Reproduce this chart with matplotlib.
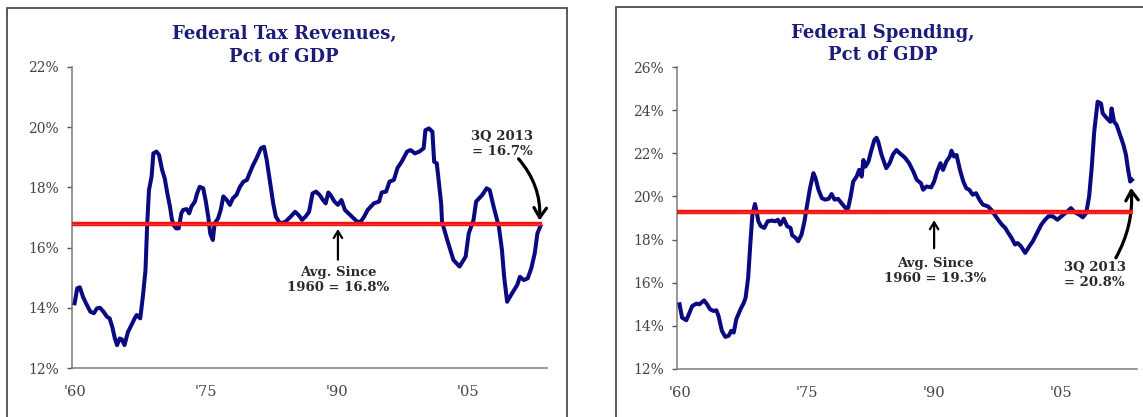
"""Federal tax revenues and spending as a share of GDP, side by side."""

import matplotlib

matplotlib.use("Agg")
import matplotlib.pyplot as plt
from matplotlib.patches import Rectangle

# Federal tax revenues, pct of GDP
tax_years = [
    1960.0, 1960.3, 1960.6, 1960.95, 1961.3, 1961.8, 1962.2, 1962.55, 1962.9, 1963.3,
    1963.7, 1964.0, 1964.3, 1964.6, 1964.85, 1965.15, 1965.4, 1965.7, 1966.1, 1966.5,
    1966.9, 1967.1, 1967.5, 1967.8, 1968.1, 1968.3, 1968.5, 1968.8, 1969.0, 1969.35,
    1969.65, 1970.0, 1970.3, 1970.6, 1970.9, 1971.1, 1971.3, 1971.6, 1971.9, 1972.2,
    1972.4, 1972.8, 1973.1, 1973.35, 1973.75, 1974.0, 1974.3, 1974.7, 1975.0, 1975.3,
    1975.5, 1975.8, 1976.0, 1976.4, 1976.7, 1977.0, 1977.4, 1977.75, 1978.1, 1978.5,
    1978.9, 1979.3, 1979.7, 1980.0, 1980.4, 1980.8, 1981.3, 1981.65, 1981.96, 1982.3,
    1982.7, 1983.0, 1983.5, 1984.1, 1984.7, 1985.2, 1985.6, 1986.0, 1986.4, 1986.8,
    1987.2, 1987.6, 1988.0, 1988.4, 1988.7, 1989.0, 1989.25, 1989.7, 1990.1, 1990.5,
    1990.9, 1991.3, 1991.9, 1992.3, 1992.7, 1993.1, 1993.5, 1994.2, 1994.8, 1995.1,
    1995.6, 1996.0, 1996.5, 1996.9, 1997.4, 1998.0, 1998.4, 1998.9, 1999.4, 1999.9,
    2000.1, 2000.5, 2000.9, 2001.1, 2001.4, 2001.9, 2002.0, 2002.6, 2003.3, 2004.0,
    2004.7, 2005.05, 2005.6, 2005.9, 2006.6, 2007.1, 2007.45, 2007.9, 2008.5, 2008.85,
    2009.1, 2009.44, 2010.0, 2010.6, 2010.9, 2011.35, 2011.8, 2012.2, 2012.6, 2012.9,
    2013.25,
]
tax_pct = [
    14.15, 14.65, 14.68, 14.37, 14.15, 13.87, 13.82, 13.98, 14.0, 13.87,
    13.7, 13.65, 13.37, 12.98, 12.76, 12.98, 12.95, 12.76, 13.2, 13.43,
    13.67, 13.76, 13.65, 14.37, 15.25, 16.8, 17.91, 18.36, 19.13, 19.19,
    19.08, 18.58, 18.3, 17.8, 17.36, 16.97, 16.75, 16.64, 16.64, 17.14,
    17.25, 17.28, 17.14, 17.36, 17.53, 17.8, 18.02, 17.97, 17.53, 16.97,
    16.47, 16.25, 16.8, 16.97, 17.25, 17.7, 17.58, 17.42, 17.64, 17.75,
    18.02, 18.19, 18.25, 18.47, 18.74, 18.97, 19.3, 19.35, 18.91, 18.25,
    17.47, 17.03, 16.8, 16.86, 17.03, 17.19, 17.08, 16.92, 17.03, 17.19,
    17.8, 17.86, 17.75, 17.58, 17.47, 17.83, 17.75, 17.53, 17.42, 17.58,
    17.25, 17.14, 16.97, 16.86, 16.86, 17.03, 17.25, 17.47, 17.53, 17.83,
    17.86, 18.19, 18.25, 18.64, 18.86, 19.19, 19.24, 19.13, 19.19, 19.3,
    19.9, 19.96, 19.85, 18.85, 18.8, 17.47, 16.86, 16.25, 15.59, 15.37,
    15.7, 16.47, 16.92, 17.53, 17.75, 17.97, 17.91, 17.36, 16.69, 15.92,
    15.03, 14.2, 14.48, 14.76, 15.03, 14.92, 14.98, 15.31, 15.81, 16.47,
    16.72,
]

# Federal spending, pct of GDP
spend_years = [
    1960.0, 1960.3, 1960.8, 1961.1, 1961.5, 1962.0, 1962.35, 1962.9, 1963.25, 1963.6,
    1964.0, 1964.35, 1964.6, 1965.0, 1965.4, 1965.8, 1966.1, 1966.4, 1966.7, 1967.2,
    1967.6, 1967.8, 1968.1, 1968.35, 1968.6, 1968.9, 1969.1, 1969.3, 1969.6, 1970.0,
    1970.4, 1970.9, 1971.3, 1971.6, 1971.9, 1972.3, 1972.7, 1973.1, 1973.3, 1973.7,
    1974.0, 1974.4, 1974.75, 1975.0, 1975.4, 1975.8, 1976.05, 1976.4, 1976.8, 1977.2,
    1977.6, 1977.95, 1978.3, 1978.7, 1979.2, 1979.6, 1979.9, 1980.2, 1980.5, 1980.9,
    1981.2, 1981.5, 1981.7, 1981.95, 1982.3, 1982.6, 1983.0, 1983.25, 1983.45, 1983.85,
    1984.4, 1984.8, 1985.2, 1985.6, 1986.0, 1986.6, 1987.1, 1987.6, 1988.0, 1988.5,
    1988.75, 1989.15, 1989.7, 1990.05, 1990.4, 1990.8, 1991.1, 1991.5, 1991.9, 1992.1,
    1992.4, 1992.7, 1993.1, 1993.5, 1993.85, 1994.2, 1994.6, 1995.0, 1995.4, 1995.8,
    1996.4, 1996.8, 1997.2, 1997.6, 1998.05, 1998.45, 1998.8, 1999.2, 1999.6, 1999.9,
    2000.3, 2000.8, 2001.3, 2001.7, 2002.2, 2002.7, 2003.15, 2003.55, 2004.05, 2004.6,
    2005.2, 2005.8, 2006.2, 2006.6, 2007.2, 2007.6, 2008.0, 2008.35, 2008.65, 2008.95,
    2009.35, 2009.75, 2009.95, 2010.45, 2010.85, 2011.0, 2011.3, 2011.6, 2012.0, 2012.4,
    2012.7, 2012.95, 2013.2, 2013.4,
]
spend_pct = [
    15.0, 14.38, 14.26, 14.54, 14.92, 15.03, 15.0, 15.18, 15.0, 14.77,
    14.69, 14.72, 14.46, 13.77, 13.49, 13.54, 13.77, 13.69, 14.31, 14.77,
    15.08, 15.31, 16.23, 17.77, 19.15, 19.65, 19.31, 18.85, 18.62, 18.54,
    18.85, 18.88, 18.85, 18.92, 18.69, 18.97, 18.62, 18.54, 18.2, 18.08,
    17.92, 18.23, 18.85, 19.46, 20.38, 21.08, 20.85, 20.31, 19.92, 19.85,
    19.89, 20.11, 19.85, 19.89, 19.65, 19.46, 19.46, 20.0, 20.69, 20.92,
    21.23, 20.92, 21.69, 21.38, 21.62, 22.08, 22.62, 22.72, 22.54, 21.92,
    21.31, 21.54, 21.95, 22.15, 22.0, 21.8, 21.54, 21.15, 20.77, 20.61,
    20.31, 20.46, 20.42, 20.69, 21.15, 21.54, 21.23, 21.62, 21.85, 22.12,
    21.85, 21.92, 21.23, 20.69, 20.38, 20.31, 20.08, 20.15, 19.85, 19.62,
    19.54, 19.38, 19.15, 18.92, 18.69, 18.54, 18.31, 18.07, 17.77, 17.84,
    17.69, 17.38, 17.69, 17.92, 18.31, 18.69, 18.92, 19.08, 19.08, 18.92,
    19.12, 19.31, 19.46, 19.28, 19.15, 19.03, 19.23, 20.0, 21.31, 23.0,
    24.39, 24.31, 23.85, 23.62, 23.46, 24.08, 23.46, 23.31, 22.85, 22.39,
    21.92, 21.23, 20.69, 20.77,
]

tax_avg = 16.8
spend_avg = 19.3
tax_last = 16.7
spend_last = 20.8

year_ticks = [1960, 1975, 1990, 2005]
year_labels = ["'60", "'75", "'90", "'05"]

W, H = 1143, 417
LINE = "#0a0a80"
TITLE = "#1b1b78"
TEXT = "#2a2a2a"
TICK = "#454545"
SERIF = "DejaVu Serif"


def px_rect(left, top, right, bottom):
    return [left / W, 1 - bottom / H, (right - left) / W, (bottom - top) / H]


def style_axis(ax, ylo, yhi):
    ax.set_xlim(1959.7, 2014.0)
    ax.set_ylim(ylo, yhi)
    ax.set_yticks(range(ylo, yhi + 1, 2))
    ax.set_yticklabels([f"{v}%" for v in range(ylo, yhi + 1, 2)])
    ax.set_xticks(year_ticks)
    ax.set_xticklabels(year_labels)
    for side in ("top", "right"):
        ax.spines[side].set_visible(False)
    for side in ("left", "bottom"):
        ax.spines[side].set_color("#7a7a7a")
        ax.spines[side].set_linewidth(1.1)
    ax.tick_params(axis="y", direction="out", length=3.5, width=1, color="#555555",
                   pad=6, labelsize=10, labelcolor=TICK)
    ax.tick_params(axis="x", length=0, pad=12, labelsize=10.5, labelcolor=TICK)
    for lab in ax.get_xticklabels() + ax.get_yticklabels():
        lab.set_family(SERIF)
    ax.patch.set_alpha(0)


def draw_series(ax, years, pct, avg):
    ax.plot(years, pct, color=LINE, lw=2.9, solid_joinstyle="round", zorder=3)
    ax.hlines(avg, 1959.7, years[-1] + 0.15, color="#f01414", lw=3.2, zorder=4)
    ax.hlines(avg, 1959.7, years[-1] + 0.15, color="#ff6a6a", lw=0.6,
              linestyles=(0, (1, 1.5)), zorder=4)


fig = plt.figure(figsize=(W / 100, H / 100), dpi=100, facecolor="white")

# panel frames (bottom / right edges run off the image as in the original)
for left, top, right in [(7, 8, 567), (616, 7, 1200)]:
    fig.patches.append(Rectangle((left / W, -0.1), (right - left) / W, 1 - top / H + 0.1,
                                 transform=fig.transFigure, fill=False,
                                 edgecolor="#4d4d4d", lw=1.3, zorder=0))

ax1 = fig.add_axes(px_rect(72, 67, 547, 368))
ax2 = fig.add_axes(px_rect(677, 67, 1137, 369))

draw_series(ax1, tax_years, tax_pct, tax_avg)
style_axis(ax1, 12, 22)
draw_series(ax2, spend_years, spend_pct, spend_avg)
style_axis(ax2, 12, 26)

# titles
title_kw = dict(ha="center", va="center", color=TITLE, fontsize=13,
                fontweight="bold", family=SERIF)
fig.text(284 / W, 1 - 34 / H, "Federal Tax Revenues,", **title_kw)
fig.text(284 / W, 1 - 57 / H, "Pct of GDP", **title_kw)
fig.text(883 / W, 1 - 33 / H, "Federal Spending,", **title_kw)
fig.text(883 / W, 1 - 55 / H, "Pct of GDP", **title_kw)

note_kw = dict(ha="center", va="center", color=TEXT, fontsize=9.5,
               fontweight="bold", family=SERIF, linespacing=1.2)
straight = dict(arrowstyle="->,head_length=0.5,head_width=0.3", color="black",
                lw=1.6, shrinkA=0, shrinkB=0)

# left panel notes
ax1.text(1990.1, 14.93, f"Avg. Since\n1960 = {tax_avg}%", **note_kw)
ax1.annotate("", xy=(1990.1, 16.62), xytext=(1990.1, 15.6), arrowprops=straight)
ax1.text(2008.9, 19.43, f"3Q 2013\n= {tax_last}%", **note_kw)
ax1.annotate("", xy=(2013.15, 16.9), xytext=(2010.75, 18.95),
             arrowprops=dict(arrowstyle="->,head_length=0.7,head_width=0.45",
                             color="black", lw=2.3, shrinkA=0, shrinkB=0,
                             connectionstyle="arc3,rad=-0.2"))

# right panel notes
ax2.text(1990.2, 16.56, f"Avg. Since\n1960 = {spend_avg}%", **note_kw)
ax2.annotate("", xy=(1990.05, 18.9), xytext=(1990.05, 17.6), arrowprops=straight)
ax2.text(2009.0, 16.36, f"3Q 2013\n= {spend_last}%", **note_kw)
ax2.annotate("", xy=(2013.3, 20.4), xytext=(2011.5, 17.15),
             arrowprops=dict(arrowstyle="->,head_length=0.7,head_width=0.45",
                             color="black", lw=2.3, shrinkA=0, shrinkB=0,
                             connectionstyle="arc3,rad=0.15"))

fig.savefig("out.png", dpi=100, facecolor="white")
